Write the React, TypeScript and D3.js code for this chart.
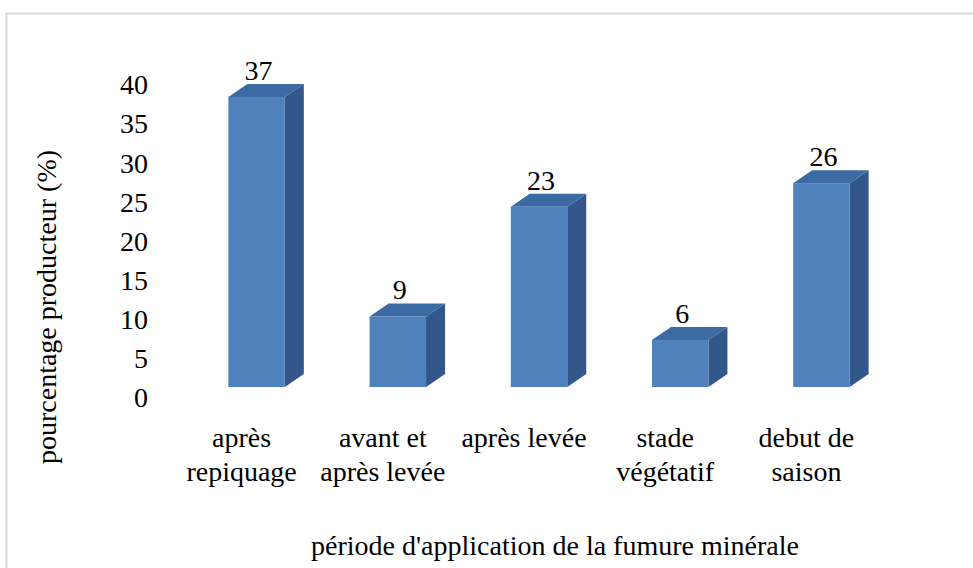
import React from "react";
import * as d3 from "d3";

const categories: string[][] = [
  ["après", "repiquage"],
  ["avant et", "après levée"],
  ["après levée"],
  ["stade", "végétatif"],
  ["debut de", "saison"],
];
const values: number[] = [37, 9, 23, 6, 26];
const yTicks: number[] = [0, 5, 10, 15, 20, 25, 30, 35, 40];
const yTitle = "pourcentage producteur (%)";
const xTitle = "période d'application de la fumure minérale";

const W = 973;
const H = 568;
const FS = 28;

export default function App() {
  const ids = categories.map((_, i) => String(i));
  const x = d3.scaleBand().domain(ids).range([186, 892]).paddingInner(0.6).paddingOuter(0.3);
  const yBar = d3.scaleLinear().domain([0, 40]).range([387, 73.4]);
  const yLab = d3.scaleLinear().domain([0, 40]).range([399, 86]);
  const dx = 19;
  const dy = 13;
  const bw = x.bandwidth();
  const digitHalf = 0.33 * FS * 0.9;

  return (
    <svg width={W} height={H} style={{ position: "absolute", left: 0, top: 0 }}>
      <rect x={6.5} y={13.5} width={990} height={600} fill="#fff" stroke="#d9d9d9" strokeWidth={2} />
      {yTicks.map((t) => (
        <text key={t} x={148} y={yLab(t) + digitHalf} textAnchor="end" fontSize={FS} style={{ fontFamily: "'Liberation Serif'" }}>
          {String(t)}
        </text>
      ))}
      {values.map((v, i) => {
        const x0 = x(String(i))!;
        const x1 = x0 + bw;
        const yt = yBar(v);
        const yb = yBar(0);
        return (
          <g key={i}>
            <polygon points={`${x1},${yt} ${x1 + dx},${yt - dy} ${x1 + dx},${yb - dy} ${x1},${yb}`} fill="#33578a" />
            <polygon points={`${x0},${yt} ${x0 + dx},${yt - dy} ${x1 + dx},${yt - dy} ${x1},${yt}`} fill="#3c6aa3" />
            <rect x={x0} y={yt} width={bw} height={yb - yt} fill="#4f81bd" />
            <text x={x0 + bw / 2 + 2} y={yt - dy - 4} textAnchor="middle" fontSize={FS} style={{ fontFamily: "'Liberation Serif'" }}>
              {String(v)}
            </text>
          </g>
        );
      })}
      {categories.map((lines, i) => {
        const cx = x(String(i))! + bw / 2 - 15;
        return (
          <g key={i}>
            {lines.map((l, j) => (
              <text key={j} x={cx} y={447 + j * 34} textAnchor="middle" fontSize={FS} style={{ fontFamily: "'Liberation Serif'" }}>
                {l}
              </text>
            ))}
          </g>
        );
      })}
      <text x={555} y={555} textAnchor="middle" fontSize={FS} style={{ fontFamily: "'Liberation Serif'" }}>
        {xTitle}
      </text>
      <text transform="translate(56,307) rotate(-90)" textAnchor="middle" fontSize={FS} style={{ fontFamily: "'Liberation Serif'" }}>
        {yTitle}
      </text>
    </svg>
  );
}
